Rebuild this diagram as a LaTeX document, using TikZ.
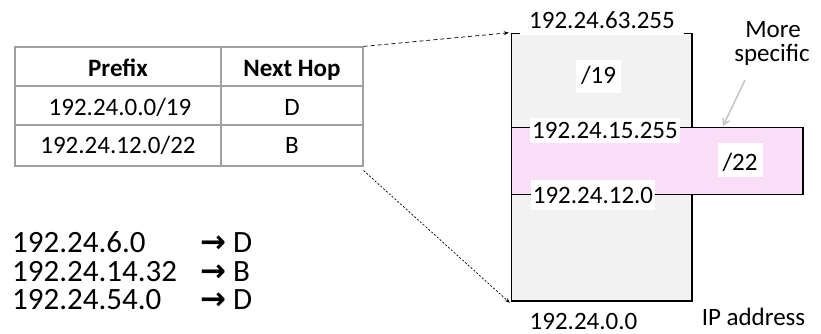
\documentclass[tikz,border=0pt]{standalone}
\usepackage{fontspec}
\setmainfont{Carlito}
\newfontfamily\arrowfont{DejaVu Sans}
\usetikzlibrary{arrows.meta}
\definecolor{boxgray}{HTML}{F2F2F2}
\definecolor{boxpink}{HTML}{FADDF6}
\definecolor{tblgray}{HTML}{A0A0A0}
\definecolor{ptrgray}{HTML}{C4C4C4}
\begin{document}
\begin{tikzpicture}[x=1pt,y=-1pt,
  lbl/.style={font=\fontsize{25}{30}\selectfont, inner sep=0pt, anchor=base},
  wlbl/.style={lbl, fill=white, text height=17pt, text depth=4pt, inner ysep=4pt, inner xsep=3pt},
  bigtxt/.style={font=\fontsize{31}{34}\selectfont, inner sep=0pt, anchor=base west, text height=20pt, text depth=0pt},
  region/.style={draw=black, line width=1.5pt, inner sep=0pt},
  tblline/.style={draw=tblgray, line width=1.2pt},
  zoomline/.style={line width=0.7pt, -{Stealth[length=5pt,width=4pt]}}
]
\useasboundingbox (0,0) rectangle (821,333);

% table
\node (tbl) [tblline, minimum width=348pt, minimum height=119pt, inner sep=0pt] at (189,106.5) {};
\coordinate (c1) at (221,47);
\coordinate (c2) at (221,166);
\coordinate (r1a) at (15,86);
\coordinate (r1b) at (363,86);
\coordinate (r2a) at (15,125);
\coordinate (r2b) at (363,125);
\draw[tblline] (c1) -- (c2);
\draw[tblline] (r1a) -- (r1b);
\draw[tblline] (r2a) -- (r2b);
\node (h1) [lbl, font=\fontsize{25}{30}\selectfont\bfseries] at (118,76) {Prefix};
\node (h2) [lbl, font=\fontsize{25}{30}\selectfont\bfseries] at (292,76) {Next Hop};
\node (p1) [lbl] at (120,115) {192.24.0.0/19};
\node (n1) [lbl] at (292,115) {D};
\node (p2) [lbl] at (118,153) {192.24.12.0/22};
\node (n2) [lbl] at (292,153) {B};

% address ranges
\node (range) [region, fill=boxgray, minimum width=180.5pt, minimum height=267.5pt] at (601.75,167.25) {};
\node (sub) [region, fill=boxpink, minimum width=291.5pt, minimum height=66.6pt] at (657.25,161) {};

\node (top) [wlbl, inner xsep=9pt, text depth=2pt, inner ysep=5pt] at (602,28) {192.24.63.255};
\node (s19) [wlbl, inner xsep=5pt, text height=19pt, text depth=6pt] at (598.5,83) {/19};
\node (hi) [wlbl, inner xsep=2pt, text height=16pt, text depth=1pt] at (605,138) {192.24.15.255};
\node (lo) [wlbl, inner xsep=2pt, text height=19pt, text depth=3pt] at (593,203) {192.24.12.0};
\node (s22) [wlbl, inner xsep=5pt, text height=23pt, text depth=3pt] at (740,170) {/22};
\node (bot) [lbl, text depth=0pt] at (583.5,329) {192.24.0.0};
\node (ip) [lbl] at (753.5,325) {IP address};

\node (more) [lbl] at (773,37) {More};
\node (spec) [lbl] at (772,61) {specific};
\coordinate (ptrA) at (745,80);
\coordinate (ptrB) at (723,126);
\draw[ptrgray, line width=1.5pt, -{Straight Barb[length=6pt,width=7pt]}] (ptrA) -- (ptrB);

% zoom connectors
\draw[zoomline, dash pattern=on 4pt off 3pt] (tbl.north east) -- ([xshift=-2pt]range.north west);
\draw[zoomline, dash pattern=on 2pt off 1.8pt] ([yshift=-4pt]tbl.south east) -- ([xshift=-1pt,yshift=-1pt]range.south west);

% lookups
\node (l1) [bigtxt] at (12,252) {\makebox[188pt][l]{192.24.6.0}{\arrowfont\bfseries →} D};
\node (l2) [bigtxt] at (12,281) {\makebox[188pt][l]{192.24.14.32}{\arrowfont\bfseries →} B};
\node (l3) [bigtxt] at (12,309) {\makebox[188pt][l]{192.24.54.0}{\arrowfont\bfseries →} D};
\end{tikzpicture}
\end{document}
